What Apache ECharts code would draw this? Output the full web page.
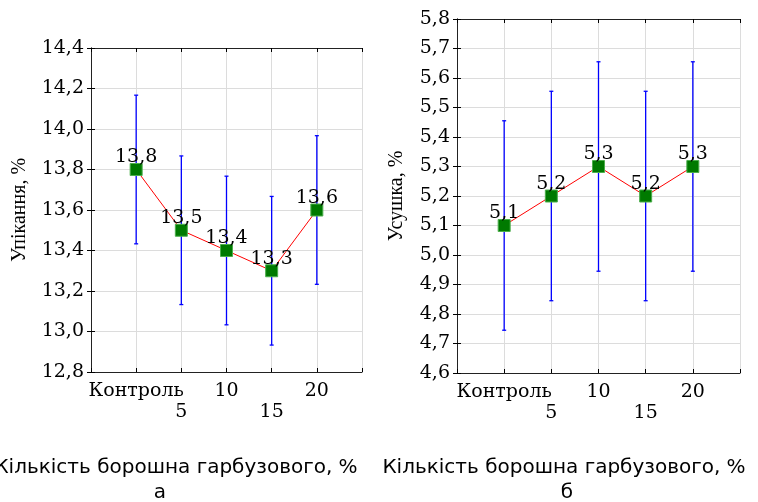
<!DOCTYPE html>
<html>
<head>
<meta charset="utf-8">
<script src="https://cdn.jsdelivr.net/npm/echarts@6/dist/echarts.min.js"></script>
<style>
  html, body { margin: 0; padding: 0; background: #fff; }
  #chart { width: 758px; height: 502px; }
</style>
</head>
<body>
<div id="chart"></div>
<script>
// категорії (кількість борошна гарбузового, %)
const xLabels = ['Контроль', '5', '10', '15', '20']
// а — упікання, %
const shrinkage = [13.8, 13.5, 13.4, 13.3, 13.6]
const shrinkageErr = [0.367, 0.367, 0.367, 0.367, 0.367]
// б — усушка, %
const drying = [5.1, 5.2, 5.3, 5.2, 5.3]
const dryingErr = [0.355, 0.355, 0.355, 0.355, 0.355]

const SERIF = 'DejaVu Serif'
const fmt = v => v.toFixed(1).replace('.', ',')

function catLabel(v) {
  const i = Math.round(v) - 1
  if (i < 0 || i >= xLabels.length) return ''
  return i % 2 === 1 ? '\n' + xLabels[i] : xLabels[i]
}

function axesFor(gridIndex, yMin, yMax, yStep, yName, nameGap) {
  const tick = { show: true, inside: true, length: 4, lineStyle: { color: '#000' } }
  const xBase = {
    gridIndex, type: 'value', min: 0, max: 6, interval: 1,
    axisLine: { show: true, lineStyle: { color: '#222' } },
    axisTick: tick,
    splitLine: { show: true, lineStyle: { color: '#dcdcdc' } },
  }
  const yBase = {
    gridIndex, type: 'value', min: yMin, max: yMax, interval: yStep,
    axisLine: { show: true, lineStyle: { color: '#222' } },
    axisTick: tick,
    splitLine: { show: true, lineStyle: { color: '#dcdcdc' } },
  }
  return {
    x: [
      { ...xBase, position: 'bottom',
        axisLabel: { formatter: catLabel, color: '#000', fontFamily: SERIF, fontSize: 19, lineHeight: 21, margin: 9, showMinLabel: true, showMaxLabel: true } },
      { ...xBase, position: 'top', axisLabel: { show: false }, splitLine: { show: false } },
    ],
    y: [
      { ...yBase, position: 'left',
        name: yName, nameLocation: 'middle', nameGap, nameRotate: 90,
        nameTextStyle: { color: '#000', fontFamily: 'Liberation Serif', fontSize: 20 },
        axisLabel: { formatter: fmt, color: '#000', fontFamily: SERIF, fontSize: 19, margin: 7 } },
      { ...yBase, position: 'right', axisLabel: { show: false }, splitLine: { show: false } },
    ],
  }
}

function errorSeries(axisIdx, values, errs) {
  return {
    type: 'custom',
    xAxisIndex: axisIdx, yAxisIndex: axisIdx,
    z: 2,
    data: values.map((v, i) => [i + 1, v - errs[i], v + errs[i]]),
    renderItem: (params, api) => {
      const lo = api.coord([api.value(0), api.value(1)])
      const hi = api.coord([api.value(0), api.value(2)])
      const style = { stroke: '#0000ff', lineWidth: 1.3 }
      return {
        type: 'group',
        children: [
          { type: 'line', shape: { x1: lo[0], y1: lo[1], x2: hi[0], y2: hi[1] }, style },
          { type: 'line', shape: { x1: hi[0] - 2, y1: hi[1], x2: hi[0] + 2, y2: hi[1] }, style },
          { type: 'line', shape: { x1: lo[0] - 2, y1: lo[1], x2: lo[0] + 2, y2: lo[1] }, style },
        ],
      }
    },
  }
}

function meanSeries(axisIdx, values) {
  return {
    type: 'line',
    xAxisIndex: axisIdx, yAxisIndex: axisIdx,
    z: 3,
    data: values.map((v, i) => [i + 1, v]),
    symbol: 'rect',
    symbolSize: 12,
    lineStyle: { color: '#ff0000', width: 1 },
    itemStyle: { color: '#007a00', borderColor: '#4caf4c', borderWidth: 1 },
    label: {
      show: true, position: 'top', distance: -4,
      formatter: p => fmt(p.value[1]),
      color: '#000', fontFamily: SERIF, fontSize: 19,
    },
  }
}

const a = axesFor(0, 12.8, 14.4, 0.2, 'Упікання, %', 61)
const b = axesFor(1, 4.6, 5.8, 0.1, 'Усушка, %', 50)

const chart = echarts.init(document.getElementById('chart'))
chart.setOption({
  animation: false,
  grid: [
    { left: 91, top: 48, width: 271, height: 324 },
    { left: 457, top: 19, width: 283, height: 354 },
  ],
  xAxis: [...a.x, ...b.x],
  yAxis: [...a.y, ...b.y],
  series: [
    errorSeries(0, shrinkage, shrinkageErr),
    meanSeries(0, shrinkage),
    errorSeries(2, drying, dryingErr),
    meanSeries(2, drying),
  ],
  graphic: [
    { type: 'text', x: 176, y: 468, style: { text: 'Кількість борошна гарбузового, %', align: 'center', verticalAlign: 'middle', fontFamily: 'DejaVu Sans', fontSize: 20, fill: '#000' } },
    { type: 'text', x: 160, y: 493, style: { text: 'а', align: 'center', verticalAlign: 'middle', fontFamily: 'DejaVu Sans', fontSize: 20, fill: '#000' } },
    { type: 'text', x: 564, y: 468, style: { text: 'Кількість борошна гарбузового, %', align: 'center', verticalAlign: 'middle', fontFamily: 'DejaVu Sans', fontSize: 20, fill: '#000' } },
    { type: 'text', x: 567, y: 493, style: { text: 'б', align: 'center', verticalAlign: 'middle', fontFamily: 'DejaVu Sans', fontSize: 20, fill: '#000' } },
  ],
})
</script>
</body>
</html>
